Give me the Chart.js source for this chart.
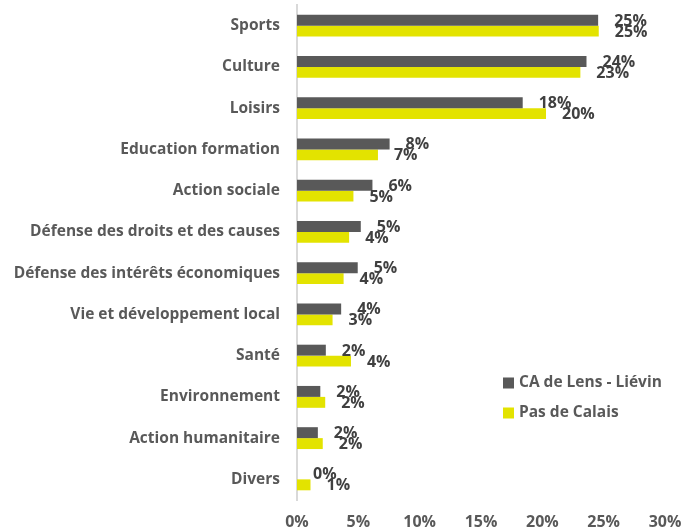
<!DOCTYPE html>
<html>
<head>
<meta charset="utf-8">
<script src="https://cdn.jsdelivr.net/npm/chart.js@4.4.1/dist/chart.umd.min.js"></script>
<style>
  html, body { margin: 0; padding: 0; background: #fff; }
  #wrap { width: 683px; height: 532px; }
</style>
</head>
<body>
<div id="wrap"><canvas id="chart"></canvas></div>
<script>
// Données
const categories = [
  "Sports", "Culture", "Loisirs", "Education formation", "Action sociale",
  "Défense des droits et des causes", "Défense des intérêts économiques",
  "Vie et développement local", "Santé", "Environnement",
  "Action humanitaire", "Divers"
];
const lensLievin = [24.55, 23.6, 18.4, 7.55, 6.15, 5.2, 4.95, 3.6, 2.35, 1.9, 1.7, 0];
const pasDeCalais = [24.6, 23.1, 20.3, 6.6, 4.6, 4.25, 3.8, 2.9, 4.4, 2.3, 2.1, 1.1];
const seriesNames = ["CA de Lens - Liévin", "Pas de Calais"];
const xTicks = [0, 5, 10, 15, 20, 25, 30];

const FONT = "'Open Sans'";
const darkGrey = "#595959";
const yellow = "#E3E300";

// étiquettes de valeurs à droite des barres
const valueLabels = {
  id: "valueLabels",
  afterDatasetsDraw(chart) {
    const ctx = chart.ctx;
    ctx.save();
    ctx.font = "bold 16px " + FONT;
    ctx.fillStyle = "#404040";
    ctx.textAlign = "left";
    ctx.textBaseline = "middle";
    chart.data.datasets.forEach((ds, i) => {
      chart.getDatasetMeta(i).data.forEach((bar, j) => {
        ctx.fillText(Math.round(ds.data[j]) + "%", bar.x + 16, bar.y + 1);
      });
    });
    ctx.restore();
  }
};

// légende dans la zone du graphique
const innerLegend = {
  id: "innerLegend",
  afterDraw(chart) {
    const ctx = chart.ctx;
    ctx.save();
    ctx.font = "bold 15.5px " + FONT;
    ctx.textAlign = "left";
    ctx.textBaseline = "middle";
    chart.data.datasets.forEach((ds, i) => {
      const y = 383 + i * 30;
      ctx.fillStyle = ds.backgroundColor;
      ctx.fillRect(503, y - 5.5, 11, 11);
      ctx.fillStyle = darkGrey;
      ctx.fillText(ds.label, 519, y);
    });
    ctx.restore();
  }
};

new Chart(document.getElementById("chart"), {
  type: "bar",
  data: {
    labels: categories,
    datasets: [
      { label: seriesNames[0], data: lensLievin, backgroundColor: darkGrey },
      { label: seriesNames[1], data: pasDeCalais, backgroundColor: yellow }
    ]
  },
  options: {
    indexAxis: "y",
    responsive: true,
    maintainAspectRatio: false,
    animation: false,
    categoryPercentage: 0.53,
    barPercentage: 1,
    layout: { padding: { top: 5, right: 18, left: 0, bottom: 0 } },
    plugins: {
      legend: { display: false },
      tooltip: { enabled: false }
    },
    scales: {
      x: {
        min: 0,
        max: 30,
        afterBuildTicks(scale) {
          scale.ticks = xTicks.map(v => ({ value: v }));
        },
        afterFit(scale) {
          scale.height = 32;
          scale.paddingLeft = 0;
          scale.paddingRight = 0;
        },
        grid: { display: false, drawTicks: false },
        border: { display: false },
        ticks: {
          padding: 13,
          color: darkGrey,
          font: { family: FONT, size: 16, weight: "bold" },
          callback: v => v + "%"
        }
      },
      y: {
        afterFit(scale) {
          scale.width = 297;
          scale.paddingTop = 0;
          scale.paddingBottom = 0;
        },
        grid: { display: false, drawTicks: false },
        border: { display: true, color: "#d9d9d9", width: 2 },
        ticks: {
          padding: 17,
          color: darkGrey,
          font: { family: FONT, size: 15.5, weight: "bold" }
        }
      }
    }
  },
  plugins: [valueLabels, innerLegend]
});
</script>
</body>
</html>
